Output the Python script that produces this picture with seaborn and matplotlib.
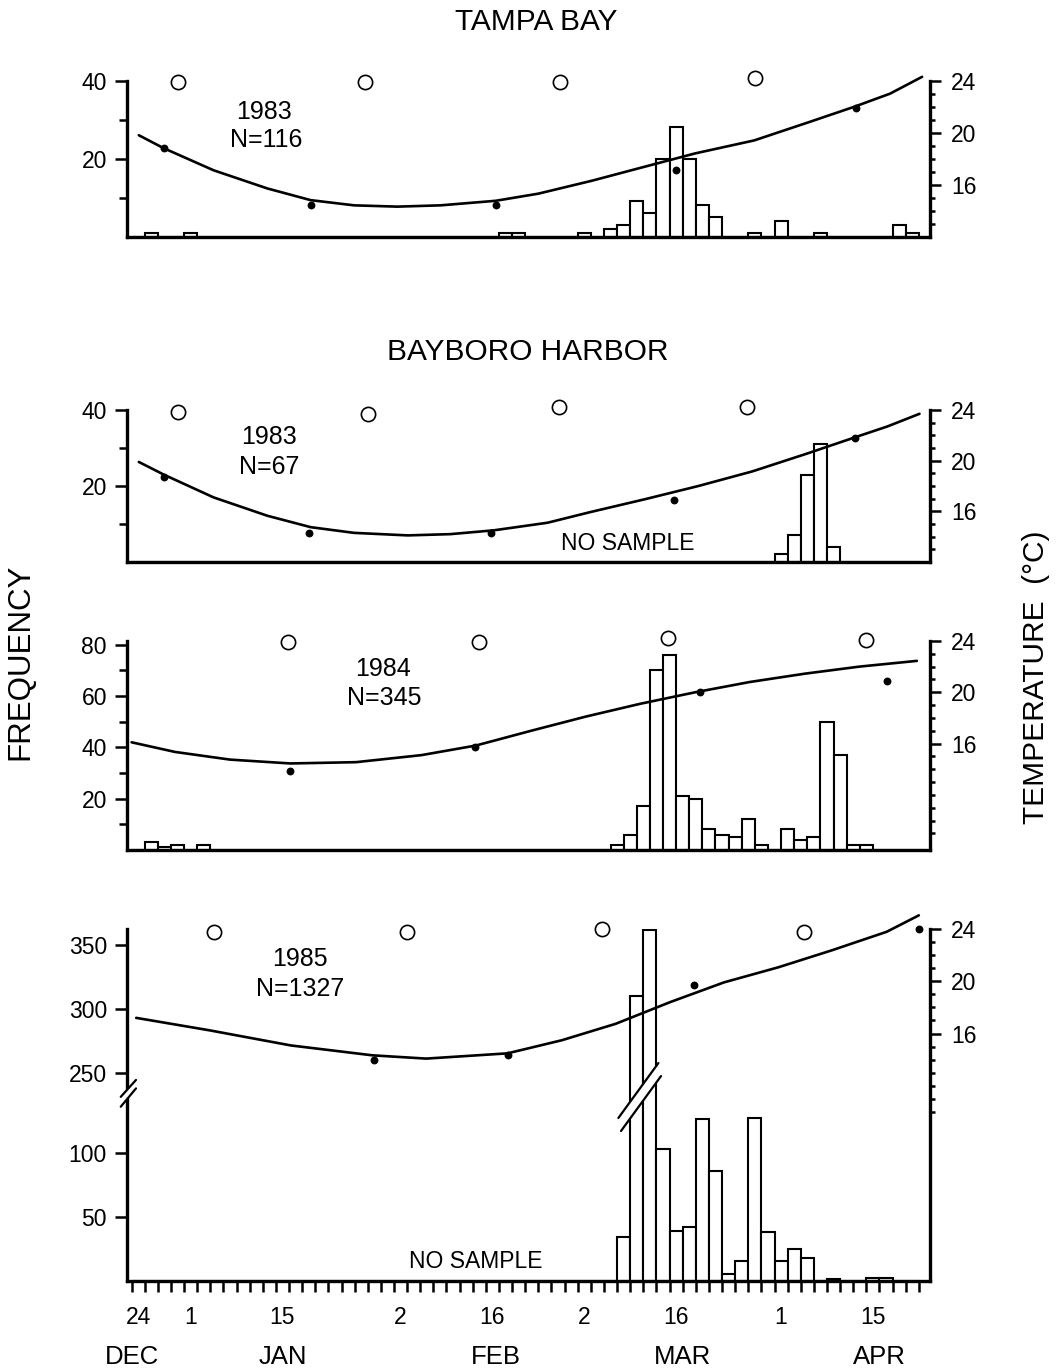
import numpy as np
import pandas as pd
import matplotlib
matplotlib.use("Agg")
import matplotlib.pyplot as plt
from matplotlib.transforms import blended_transform_factory
from matplotlib.patches import Polygon
import seaborn as sns

# ---------------- calendar axis: days after 24 December ----------------
DAY_TICKS = [0, 8, 22, 40, 54, 68, 82, 98, 112]
DAY_LABELS = ["24", "1", "15", "2", "16", "2", "16", "1", "15"]
MONTH_POS = [-1, 22, 54.5, 83, 113]
MONTH_LABELS = ["DEC", "JAN", "FEB", "MAR", "APR"]

# ---------------- Tampa Bay 1983 ----------------
tb83_bar_day = [2, 8, 56, 58, 68, 72, 74, 76, 78, 80, 82, 84, 86, 88, 94, 98, 104, 116, 118]
tb83_count = [1, 1, 1, 1, 1, 2, 3, 9, 6, 20, 28, 20, 8, 5, 1, 4, 1, 3, 1]
tb83_dot_day = [3.9, 26.3, 54.5, 82.0, 109.4]
tb83_dot_temp = [18.8, 14.4, 14.4, 17.1, 21.9]
tb83_fit_day = [0.1, 3.9, 11.5, 19.7, 26.3, 32.9, 39.5, 46.1, 54.5, 61.0, 69.2, 77.4,
                84.9, 93.9, 102.2, 109.2, 114.6, 119.5]
tb83_fit_temp = [19.8, 18.8, 17.1, 15.7, 14.8, 14.4, 14.3, 14.4, 14.75, 15.3, 16.3, 17.4,
                 18.4, 19.4, 20.8, 22.0, 23.0, 24.3]
tb83_moon_day = [6.0, 34.6, 64.3, 94.1]
tb83_moon_temp = [23.9, 23.9, 23.9, 24.2]

# ---------------- Bayboro Harbor 1983 ----------------
bh83_bar_day = [98, 100, 102, 104, 106]
bh83_count = [2, 7, 23, 31, 4]
bh83_dot_day = [3.9, 26.1, 53.8, 81.7, 109.3]
bh83_dot_temp = [18.7, 14.3, 14.3, 16.9, 21.8]
bh83_fit_day = [0.1, 3.9, 11.5, 19.7, 26.3, 32.9, 41.1, 47.6, 54.2, 62.4, 69.0, 77.2,
                85.4, 93.6, 101.9, 109.3, 114.2, 119.1]
bh83_fit_temp = [19.9, 18.9, 17.1, 15.65, 14.75, 14.3, 14.1, 14.2, 14.5, 15.1, 15.95, 16.95,
                 18.0, 19.15, 20.55, 21.85, 22.7, 23.7]
bh83_moon_day = [6.0, 35.1, 64.1, 92.8]
bh83_moon_temp = [23.85, 23.7, 24.25, 24.2]

# ---------------- Bayboro Harbor 1984 ----------------
bh84_bar_day = [2, 4, 6, 10, 73, 75, 77, 79, 81, 83, 85, 87, 89, 91, 93, 95, 99, 101,
                103, 105, 107, 109, 111]
bh84_count = [3, 1, 2, 2, 2, 6, 17, 70, 76, 21, 20, 8, 6, 5, 12, 2, 8, 4, 5, 50, 37, 2, 2]
bh84_dot_day = [23.2, 51.3, 85.7, 114.1]
bh84_dot_temp = [13.9, 15.75, 20.0, 20.85]
bh84_fit_day = [-1.0, 5.6, 14.0, 23.2, 33.2, 43.2, 51.5, 59.9, 68.2, 76.5, 84.9, 93.2,
                101.6, 109.9, 118.7]
bh84_fit_temp = [16.1, 15.35, 14.75, 14.45, 14.55, 15.1, 15.85, 17.0, 18.1, 19.1, 20.0,
                 20.8, 21.45, 22.0, 22.45]
bh84_moon_day = [22.9, 52.0, 80.8, 111.0]
bh84_moon_temp = [23.9, 23.9, 24.2, 24.05]

# ---------------- Bayboro Harbor 1985 ----------------
bh85_bar_day = [74, 76, 78, 80, 82, 84, 86, 88, 90, 92, 94, 96, 98, 100, 102, 106, 112, 114]
bh85_count = [34, 310, 362, 103, 39, 42, 126, 86, 5, 15, 127, 38, 15, 25, 18, 1, 2, 2]
bh85_dot_day = [36.0, 56.3, 84.8, 119.0]
bh85_dot_temp = [14.0, 14.4, 19.7, 24.0]
bh85_fit_day = [-0.3, 10.9, 23.3, 35.7, 43.9, 56.3, 64.6, 72.8, 81.1, 89.3, 97.6, 105.8,
                114.1, 119.0]
bh85_fit_temp = [17.2, 16.25, 15.1, 14.35, 14.1, 14.5, 15.5, 16.75, 18.4, 19.9, 21.05,
                 22.35, 23.75, 25.0]
bh85_moon_day = [11.5, 41.0, 70.7, 101.5]
bh85_moon_temp = [23.7, 23.7, 24.0, 23.7]

# ---------------- styling ----------------
sns.set_theme(style="ticks", rc={
    "axes.edgecolor": "black", "xtick.color": "black", "ytick.color": "black",
    "text.color": "black", "axes.labelcolor": "black",
})
plt.rcParams["font.family"] = ["Liberation Sans", "DejaVu Sans"]

W, H = 1057, 1369
fig = plt.figure(figsize=(W / 100, H / 100), dpi=100)
XLIM = (-1.7, 120.7)
SPINE_W = 2.4
TICK_W = 1.8
TICK_FS = 16.5


def box(left, top, right, bottom):
    return fig.add_axes([left / W, 1 - bottom / H, (right - left) / W, (bottom - top) / H])


def fxy(x, y):
    return x / W, 1 - y / H


# broken frequency scale for the 1985 panel
def brk_fwd(v):
    v = np.asarray(v, dtype=float)
    return np.where(v <= 145, v, np.where(v < 240, 145 + (v - 145) * 7 / 95, v - 88))


def brk_inv(y):
    y = np.asarray(y, dtype=float)
    return np.where(y <= 145, y, np.where(y < 152, 145 + (y - 145) * 95 / 7, y + 88))


def panel(rect, edges, bar_day, counts, dot_day, dot_temp, fit_day, fit_temp,
          moon_day, moon_temp, n_lim, n_major, n_minor, t_lim, t_minor, broken=False):
    ax = box(*rect)
    bars = pd.DataFrame({"day": bar_day, "n": counts})
    sns.histplot(data=bars, x="day", weights="n", bins=list(edges), ax=ax, color="white",
                 edgecolor="black", linewidth=1.5, alpha=1, zorder=2)
    if broken:
        ax.set_yscale("function", functions=(brk_fwd, brk_inv))
    ax.set_ylim(*n_lim)
    ax.set_xlabel("")
    ax.set_ylabel("")
    ax.set_yticks(n_major, labels=[str(v) for v in n_major])
    ax.set_yticks(n_minor, minor=True)
    ax.tick_params(axis="y", which="major", length=8.4, width=TICK_W, labelsize=TICK_FS,
                   pad=6)
    ax.tick_params(axis="y", which="minor", length=5.8, width=TICK_W)
    for s in ("top", "right"):
        ax.spines[s].set_visible(False)
    for s in ("left", "bottom"):
        ax.spines[s].set_linewidth(SPINE_W)

    tw = ax.twinx()
    sns.lineplot(x=fit_day, y=fit_temp, ax=tw, color="black", linewidth=1.9,
                 sort=False, clip_on=False)
    sns.scatterplot(x=dot_day, y=dot_temp, ax=tw, color="black", s=32, linewidth=0,
                    clip_on=False, zorder=4)
    sns.scatterplot(x=moon_day, y=moon_temp, ax=tw, color="white", edgecolor="black",
                    s=105, linewidth=1.2, clip_on=False, zorder=4)
    tw.set_ylim(*t_lim)
    tw.set_ylabel("")
    tw.set_yticks([16, 20, 24], labels=["16", "20", "24"])
    tw.set_yticks(t_minor, minor=True)
    tw.tick_params(axis="y", which="major", length=8, width=TICK_W, labelsize=TICK_FS,
                   pad=7)
    tw.tick_params(axis="y", which="minor", length=3.6, width=TICK_W)
    for s in ("top", "left", "bottom"):
        tw.spines[s].set_visible(False)
    tw.spines["right"].set_linewidth(SPINE_W)

    ax.set_xlim(*XLIM)
    ax.tick_params(axis="x", which="both", bottom=False, labelbottom=False)
    return ax, tw


edges_odd = np.arange(-1, 121, 2)
edges_1984 = np.r_[np.arange(-1, 66, 2), np.arange(68, 121, 2)]

# Tampa Bay 1983
panel((127, 80.7, 930, 236.5), edges_odd, tb83_bar_day, tb83_count, tb83_dot_day,
      tb83_dot_temp, tb83_fit_day, tb83_fit_temp, tb83_moon_day, tb83_moon_temp,
      (0, 40), [20, 40], [10, 30], (12, 24), [13, 14, 15, 17, 18, 19, 21, 22, 23])

# Bayboro Harbor 1983
panel((127, 410, 930, 562), edges_odd, bh83_bar_day, bh83_count, bh83_dot_day,
      bh83_dot_temp, bh83_fit_day, bh83_fit_temp, bh83_moon_day, bh83_moon_temp,
      (0, 40), [20, 40], [10, 30], (12, 24), [13, 14, 15, 17, 18, 19, 21, 22, 23])

# Bayboro Harbor 1984
panel((127, 641, 930, 850), edges_1984, bh84_bar_day, bh84_count, bh84_dot_day,
      bh84_dot_temp, bh84_fit_day, bh84_fit_temp, bh84_moon_day, bh84_moon_temp,
      (0, 81.5), [20, 40, 60, 80], [10, 30, 50, 70], (7.7, 24),
      [9, 10, 11, 12, 13, 14, 15, 17, 18, 19, 21, 22, 23])

# Bayboro Harbor 1985 (broken frequency axis)
ax4, tw4 = panel((127, 928.5, 930, 1280.7), edges_odd, bh85_bar_day, bh85_count,
                 bh85_dot_day, bh85_dot_temp, bh85_fit_day, bh85_fit_temp,
                 bh85_moon_day, bh85_moon_temp, (0, 363), [50, 100, 250, 300, 350], [],
                 (-2.8, 24), [10, 11, 12, 13, 14, 15, 17, 18, 19, 21, 22, 23],
                 broken=True)

# calendar ticks on the bottom panel
ax4.tick_params(axis="x", which="both", bottom=True, labelbottom=True)
ax4.set_xticks(DAY_TICKS, labels=DAY_LABELS)
ax4.set_xticks(np.arange(-1, 121, 2), minor=True)
ax4.tick_params(axis="x", which="major", length=0, labelsize=TICK_FS, pad=18)
ax4.tick_params(axis="x", which="minor", length=8, width=TICK_W)
mtr = blended_transform_factory(ax4.transData, fig.transFigure)
for pos, lab in zip(MONTH_POS, MONTH_LABELS):
    ax4.text(pos, 1 - 1357 / H, lab, transform=mtr, ha="center", va="center", fontsize=18.5)

# axis-break marks: on the frequency spine and across the tall bars
spine_cut = [(-0.0078, 0.522), (0.0112, 0.570), (0.0112, 0.546), (-0.0078, 0.494)]
ax4.add_patch(Polygon(spine_cut, closed=True, transform=ax4.transAxes, facecolor="white",
                      edgecolor="none", zorder=6, clip_on=False))
ax4.plot([-0.0078, 0.0112], [0.522, 0.570], transform=ax4.transAxes, color="black",
         lw=1.6, zorder=7, clip_on=False)
ax4.plot([-0.0078, 0.0112], [0.494, 0.546], transform=ax4.transAxes, color="black",
         lw=1.6, zorder=7, clip_on=False)
btr = blended_transform_factory(ax4.transData, ax4.transAxes)
bar_cut = [(73.2, 0.462), (79.3, 0.618), (79.7, 0.581), (73.6, 0.425)]
ax4.add_patch(Polygon(bar_cut, closed=True, transform=btr, facecolor="white",
                      edgecolor="none", zorder=6))
ax4.plot([73.2, 79.3], [0.462, 0.618], transform=btr, color="black", lw=1.6, zorder=7)
ax4.plot([73.6, 79.7], [0.425, 0.581], transform=btr, color="black", lw=1.6, zorder=7)


# panel annotations
def ftext(x, y, s, **kw):
    fx, fy = fxy(x, y)
    fig.text(fx, fy, s, ha="center", va="center", **kw)


ftext(536, 22, "TAMPA BAY", fontsize=21.5)
ftext(528, 352, "BAYBORO HARBOR", fontsize=21.5)
ftext(20, 662, "FREQUENCY", fontsize=22.5, rotation=90)
ftext(1036, 677, "TEMPERATURE  (°C)", fontsize=21.5, rotation=90)

ftext(264, 112, "1983", fontsize=18)
ftext(266, 140, "N=116", fontsize=18)
ftext(269, 437, "1983", fontsize=18)
ftext(269, 467, "N=67", fontsize=18)
ftext(383, 669, "1984", fontsize=18)
ftext(384, 698, "N=345", fontsize=18)
ftext(300, 959, "1985", fontsize=18)
ftext(300, 989, "N=1327", fontsize=18)

ftext(628, 544, "NO SAMPLE", fontsize=16.5)
ftext(476, 1261, "NO SAMPLE", fontsize=16.5)

fig.savefig("out.png", dpi=100, facecolor="white")
